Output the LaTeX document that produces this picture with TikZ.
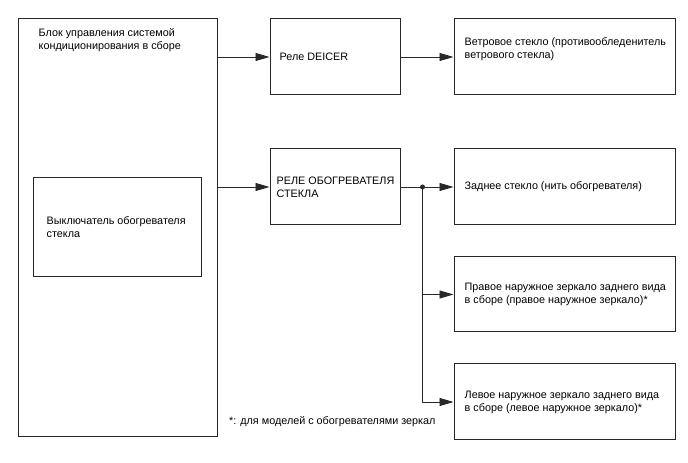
\documentclass[tikz,border=0pt]{standalone}
\usepackage{fontspec}
\setmainfont{Liberation Sans}
\usetikzlibrary{arrows.meta, positioning}
\definecolor{linegray}{RGB}{40,40,40}

\begin{document}
\begin{tikzpicture}[
    x=1pt, y=1pt,
    box/.style={draw=linegray, line width=1pt, minimum height=76pt, inner sep=0pt},
    txt/.style={align=left, inner sep=0pt, font=\fontsize{10.8}{13}\selectfont},
    arr/.style={-{Triangle[length=14pt, width=8pt]}, draw=linegray, line width=0.9pt}
]
    \useasboundingbox (0,0) rectangle (688,463);
    \node[box, minimum width=199pt, minimum height=418pt] (ctrl) at (117.5,235) {};
    \node[txt, anchor=north west] (ctrltxt) at ([shift={(21pt,-10pt)}]ctrl.north west) {Блок управления системой\\кондиционирования в сборе};
    \node[box, minimum width=168pt, minimum height=99pt] (switch) at (117,235.5) {};
    \node[txt, right=14pt of switch.west] (switchtxt) {Выключатель обогревателя\\стекла};
    \node[box, minimum width=130pt, anchor=north west] (deicer) at ([xshift=52pt]ctrl.north east) {};
    \node[txt, right=10pt of deicer.west] (deicertxt) {Реле DEICER};
    \node[box, minimum width=221pt, right=53pt of deicer] (wind) {};
    \node[txt, right=11pt of wind.west, yshift=8pt] (windtxt) {Ветровое стекло (противообледенитель\\ветрового стекла)};
    \node[box, minimum width=130pt, below=53pt of deicer] (relay) {};
    \node[txt, right=7pt of relay.west] (relaytxt) {РЕЛЕ ОБОГРЕВАТЕЛЯ\\СТЕКЛА};
    \node[box, minimum width=221pt, right=53pt of relay] (rear) {};
    \node[txt, right=11pt of rear.west] (reartxt) {Заднее стекло (нить обогревателя)};
    \node[box, minimum width=221pt, minimum height=75pt, below=31pt of rear] (rmirror) {};
    \node[txt, right=11pt of rmirror.west] (rmirrortxt) {Правое наружное зеркало заднего вида\\в сборе (правое наружное зеркало)*};
    \node[box, minimum width=221pt, below=31pt of rmirror] (lmirror) {};
    \node[txt, right=11pt of lmirror.west] (lmirrortxt) {Левое наружное зеркало заднего вида\\в сборе (левое наружное зеркало)*};
    \node[txt, anchor=west] (note) at (229,41) {*: для моделей с обогревателями зеркал};

    \draw[arr] (ctrl.east |- deicer) -- (deicer);
    \draw[arr] (deicer) -- (wind);
    \draw[arr] (ctrl.east |- relay) -- (relay);
    \draw[arr] (relay) -- (rear);
    \coordinate[right=22pt of relay.east] (split);
    \fill[linegray] (split) circle (2.5pt);
    \draw[arr] (split) |- (rmirror);
    \draw[arr] (split) |- (lmirror);
\end{tikzpicture}
\end{document}
